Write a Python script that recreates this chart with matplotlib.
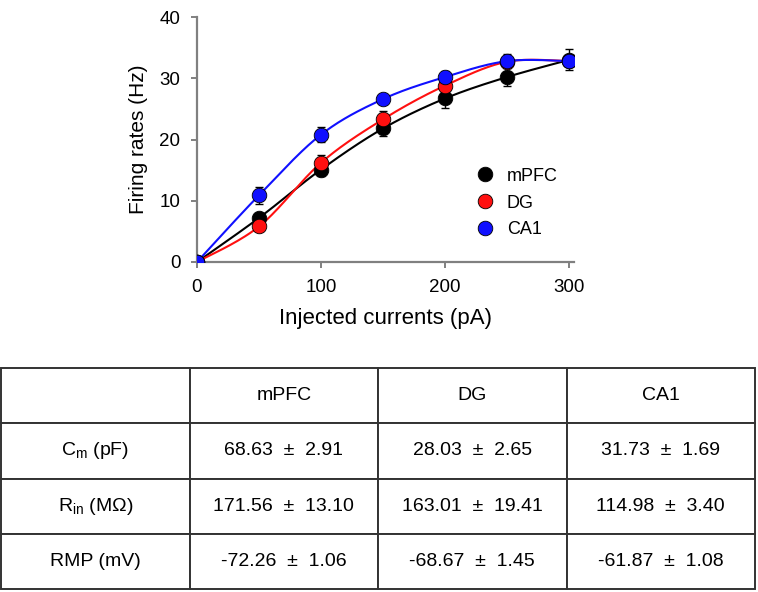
import numpy as np
import matplotlib
matplotlib.use("Agg")
import matplotlib.pyplot as plt

plt.rcParams['font.family'] = ['Liberation Sans', 'DejaVu Sans']
plt.rcParams['mathtext.fontset'] = 'custom'
plt.rcParams['mathtext.rm'] = 'Liberation Sans'
plt.rcParams['mathtext.it'] = 'Liberation Sans:italic'

# データ
currents = [0, 50, 100, 150, 200, 250, 300]
mpfc = [0, 7.2, 15.1, 21.8, 26.7, 30.2, 33.0]
mpfc_err = [0, 0.8, 1.0, 1.25, 1.6, 1.5, 1.7]
dg = [0, 5.8, 16.2, 23.3, 28.8, 32.7, 32.8]
dg_err = [0, 0.6, 1.25, 1.35, 1.0, 0.8, 0.8]
ca1 = [0, 10.9, 20.8, 26.6, 30.2, 32.8, 32.8]
ca1_err = [0, 1.35, 1.2, 0.8, 1.0, 1.1, 0.8]

groups = ['mPFC', 'DG', 'CA1']
row_labels = ['C$_\\mathrm{m}$ (pF)', 'R$_\\mathrm{in}$ (MΩ)', 'RMP (mV)']
cm_vals = ['68.63  ±  2.91', '28.03  ±  2.65', '31.73  ±  1.69']
rin_vals = ['171.56  ±  13.10', '163.01  ±  19.41', '114.98  ±  3.40']
rmp_vals = ['-72.26  ±  1.06', '-68.67  ±  1.45', '-61.87  ±  1.08']


# Excel風のスムーズ線 (Catmull-Rom)
def smooth(x, y, n=30):
    p = np.column_stack([x, y]).astype(float)
    p = np.vstack([p[0], p, p[-1]])
    out = []
    t = np.linspace(0, 1, n)[:, None]
    for i in range(1, len(p) - 2):
        p0, p1, p2, p3 = p[i - 1], p[i], p[i + 1], p[i + 2]
        c1 = p1 + (p2 - p0) / 6
        c2 = p2 - (p3 - p1) / 6
        seg = ((1 - t) ** 3) * p1 + 3 * ((1 - t) ** 2) * t * c1 + 3 * (1 - t) * t ** 2 * c2 + t ** 3 * p2
        out.append(seg)
    out = np.vstack(out)
    return out[:, 0], out[:, 1]


fig = plt.figure(figsize=(7.58, 5.92), dpi=100)
ax = fig.add_axes([197 / 758, 1 - 262 / 592, (574 - 197) / 758, (262 - 17) / 592])

series = [(mpfc, mpfc_err, 'black', 'mPFC'),
          (dg, dg_err, '#ff1010', 'DG'),
          (ca1, ca1_err, '#1010ff', 'CA1')]
handles = []
for vals, err, col, name in series:
    sx, sy = smooth(currents, vals)
    ax.plot(sx, sy, color=col, lw=1.5, zorder=2)
    ax.errorbar(currents, vals, yerr=err, fmt='none', ecolor='black',
                elinewidth=1.0, capsize=3, capthick=1.0, zorder=3)
    h, = ax.plot(currents, vals, 'o', color=col, markersize=10.5,
                 markeredgecolor='black', markeredgewidth=0.6, zorder=4, label=name)
    handles.append(h)

ax.set_xlim(0, 304)
ax.set_ylim(0, 40)
ax.set_xticks([0, 100, 200, 300])
ax.set_yticks([0, 10, 20, 30, 40])
for s in ['top', 'right']:
    ax.spines[s].set_visible(False)
for s in ['left', 'bottom']:
    ax.spines[s].set_color('#808080')
    ax.spines[s].set_linewidth(1.6)
    ax.spines[s].set_zorder(1)
ax.tick_params(direction='out', length=4, width=1.4, color='#808080',
               labelsize=13.5, labelcolor='black')
ax.tick_params(axis='y', pad=8)
ax.tick_params(axis='x', pad=8)
ax.set_xlabel('Injected currents (pA)', fontsize=16, labelpad=9)
ax.set_ylabel('Firing rates (Hz)', fontsize=15, labelpad=8)

fig.legend(handles=handles, loc='center left', bbox_to_anchor=(476 / 758, 1 - 203 / 592),
           frameon=False, fontsize=13, handlelength=1.0, handletextpad=0.7,
           labelspacing=0.55, borderpad=0, borderaxespad=0)

# 表
tab_ax = fig.add_axes([1 / 758, 1 - 589 / 592, 754 / 758, (589 - 368) / 592])
tab_ax.axis('off')
cells = [[''] + groups,
         [row_labels[0]] + cm_vals,
         [row_labels[1]] + rin_vals,
         [row_labels[2]] + rmp_vals]
tbl = tab_ax.table(cellText=cells, cellLoc='center', bbox=[0, 0, 1, 1])
tbl.auto_set_font_size(False)
tbl.set_fontsize(14)
for (r, c), cell in tbl.get_celld().items():
    cell.set_edgecolor('#333333')
    cell.set_linewidth(1.4)

fig.savefig('out.png', dpi=100)
